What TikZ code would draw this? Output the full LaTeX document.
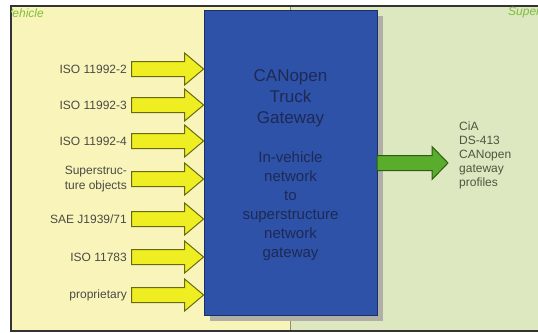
\documentclass[tikz,border=0pt]{standalone}
\usepackage{fontspec}
\setmainfont{Liberation Sans}
\definecolor{bgyellow}{HTML}{F9F5BA}
\definecolor{bggreen}{HTML}{DDE8C0}
\definecolor{gwblue}{HTML}{2D52A8}
\definecolor{gwline}{HTML}{1C2E66}
\definecolor{gwtext}{HTML}{1E2A55}
\definecolor{shadowgray}{HTML}{AFAFA6}
\definecolor{labelgray}{HTML}{4A4A44}
\definecolor{rightgray}{HTML}{4C5640}
\definecolor{zonegreen}{HTML}{7DBF3E}
\definecolor{yfill}{HTML}{EEEE22}
\definecolor{yline}{HTML}{6A6A12}
\definecolor{gfill}{HTML}{5AAC2C}
\definecolor{gline}{HTML}{2C5C14}
\definecolor{divgray}{HTML}{8C8C78}
\definecolor{framegray}{HTML}{333333}
\begin{document}
\begin{tikzpicture}[x=1pt,y=-1pt,
  lbl/.style={font=\fontsize{12}{15}\selectfont, text=labelgray, align=center, anchor=east, inner sep=0pt},
  rlbl/.style={font=\fontsize{12}{14}\selectfont, text=rightgray, align=left, anchor=west, inner sep=0pt},
  zone/.style={font=\fontsize{12}{14}\selectfont\itshape, text=zonegreen, inner sep=0pt},
  gwbox/.style={fill=gwblue, draw=gwline, line width=0.8pt, minimum width=173pt, minimum height=305pt, inner sep=0pt},
  gwtitle/.style={font=\fontsize{17}{21}\selectfont, text=gwtext, align=center, inner sep=0pt},
  gwsub/.style={font=\fontsize{15}{19}\selectfont, text=gwtext, align=center, inner sep=0pt},
  yarrowstyle/.style={fill=yfill, draw=yline, line width=1pt, line join=miter},
  garrowstyle/.style={fill=gfill, draw=gline, line width=1pt, line join=miter},
  yarrow/.pic={\draw[yarrowstyle] (0,0) -- (-19,-16) -- (-19,-7.5) -- (-72,-7.5) -- (-72,7.5) -- (-19,7.5) -- (-19,16) -- cycle;},
  garrow/.pic={\draw[garrowstyle] (0,0) -- (-16,-16.5) -- (-16,-7.5) -- (-71,-7.5) -- (-71,7.5) -- (-16,7.5) -- (-16,16.5) -- cycle;}
]
\useasboundingbox (0,0) rectangle (538,332);
\fill[white] (0,0) rectangle (538,332);
\fill[bgyellow] (11,6) rectangle (290,331);
\fill[bggreen] (290,6) rectangle (538,331);
\draw[divgray, line width=0.8pt] (290,6) -- (290,331);
\draw[framegray, line width=1.4pt] (538,6) -- (11,6) -- (11,331) -- (538,331);

\begin{scope}
  \clip (11.7,6.7) rectangle (290,331);
  \node[zone, anchor=east] (veh) at (44,13) {Vehicle};
\end{scope}
\begin{scope}
  \clip (290,6.7) rectangle (538,331);
  \node[zone, anchor=west] (sup) at (508,13) {Superstructure};
\end{scope}

% gateway
\fill[shadowgray] (210,16) rectangle (383,321);
\node[gwbox] (gw) at (290.5,162.5) {};
\node[gwtitle] (t1) at (290.5,98) {CANopen\\Truck\\Gateway};
\node[gwsub] (t2) at (290.5,206) {In-vehicle\\network\\to\\superstructure\\network\\gateway};

% input labels
\node[lbl] (l1) at (127,69) {ISO 11992-2};
\node[lbl] (l2) at (127,105) {ISO 11992-3};
\node[lbl] (l3) at (127,141) {ISO 11992-4};
\node[lbl] (l4) at (127,179) {Superstruc-\\ture objects};
\node[lbl] (l5) at (127,219) {SAE J1939/71};
\node[lbl] (l6) at (127,257) {ISO 11783};
\node[lbl] (l7) at (127,295) {proprietary};

\foreach \n in {l1,l2,l3,l4,l5,l6,l7}{
  \pic at (gw.west |- \n.east) {yarrow};
}

% output
\coordinate (gtip) at (448,163);
\pic at (gtip) {garrow};
\node[rlbl] (cia) at (459,155) {CiA\\DS-413\\CANopen\\gateway\\profiles};
\end{tikzpicture}
\end{document}
